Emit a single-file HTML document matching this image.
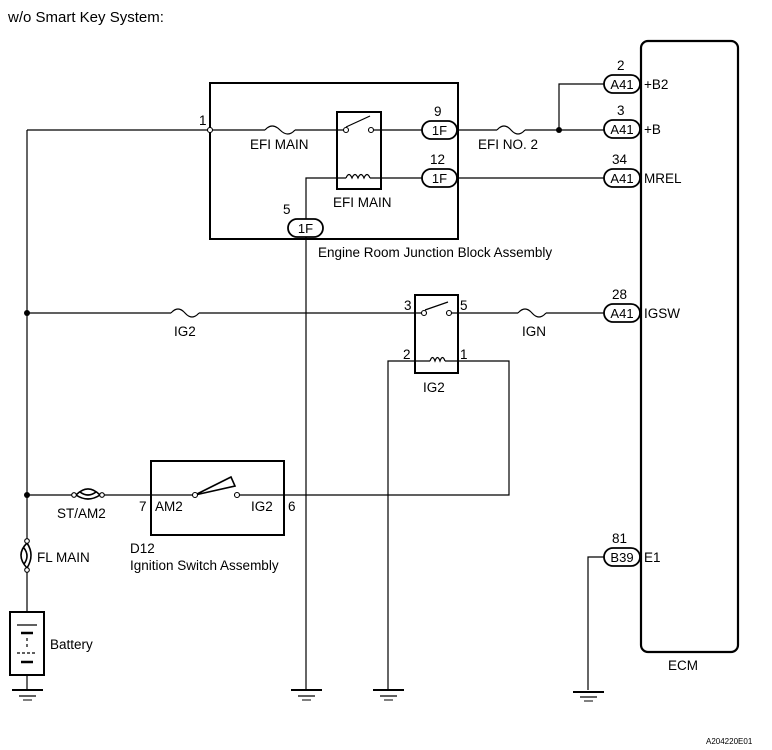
<!DOCTYPE html>
<html><head><meta charset="utf-8"><style>
html,body{margin:0;padding:0;background:#fff;}
svg{display:block;}
text{font-family:"Liberation Sans",Arial,sans-serif;fill:#000;}
</style></head><body>
<svg width="772" height="750" viewBox="0 0 772 750" xmlns="http://www.w3.org/2000/svg">
<g fill="none" stroke="#000" stroke-width="1.2">
<rect x="641" y="41" width="97" height="611" rx="7" stroke-width="2.2"/>
<rect x="210" y="83" width="248" height="156" stroke-width="2"/>
<rect x="337" y="112" width="44" height="77" stroke-width="2"/>
<rect x="415" y="295" width="43" height="78" stroke-width="2"/>
<rect x="151" y="461" width="133" height="74" stroke-width="2"/>
<rect x="10" y="612" width="34" height="63" stroke-width="2"/>

<line x1="27" y1="130" x2="27" y2="541"/>
<line x1="27" y1="570" x2="27" y2="612"/>
<line x1="27" y1="675" x2="27" y2="690"/>
<line x1="27" y1="130" x2="265" y2="130"/>
<path d="M265,130 q7,-8 15,0 t15,0"/>
<line x1="295" y1="130" x2="345" y2="130"/>
<line x1="372" y1="130" x2="422" y2="130"/>
<line x1="346" y1="127" x2="370" y2="116"/>
<line x1="457" y1="130" x2="497" y2="130"/>
<path d="M497,130 q7,-8 14,0 t14,0"/>
<line x1="525" y1="130" x2="604" y2="130"/>
<polyline points="559,130 559,84 604,84"/>
<polyline points="306,227 306,178 346,178"/>
<path d="M346,178 q3,-7 6,0 q3,-7 6,0 q3,-7 6,0 q3,-7 6,0" />
<line x1="370" y1="178" x2="422" y2="178"/>
<line x1="457" y1="178" x2="604" y2="178"/>
<line x1="306" y1="236" x2="306" y2="690"/>
<line x1="27" y1="313" x2="171" y2="313"/>
<path d="M171,313 q7,-8 14,0 t14,0"/>
<line x1="199" y1="313" x2="424" y2="313"/>
<line x1="425" y1="310" x2="448" y2="302"/>
<line x1="449" y1="313" x2="518" y2="313"/>
<path d="M518,313 q7,-8 14,0 t14,0"/>
<line x1="546" y1="313" x2="604" y2="313"/>
<polyline points="388,690 388,361 430,361"/>
<path d="M430,361 q2.5,-7 5,0 q2.5,-7 5,0 q2.5,-7 5,0"/>
<polyline points="445,361 509,361 509,495 239,495"/>
<line x1="27" y1="495" x2="74" y2="495"/>
<path d="M76,495 q12,-12 24,0 M76,495 q12,8 24,0 M80,492 q8,6 16,0" stroke-width="1.6"/>
<line x1="102" y1="495" x2="195" y2="495"/>
<path d="M195,495 L231,477 L235,486 Z" stroke-width="1.6"/>
<path d="M27,543 q-12,12 0,25 M27,543 q8,12 0,25 M24,548 q6,8 0,16" stroke-width="1.6"/>
<line x1="17" y1="625" x2="37" y2="625"/>
<line x1="21" y1="633" x2="33" y2="633" stroke-width="2.5"/>
<line x1="27" y1="638" x2="27" y2="650" stroke-dasharray="3,3"/>
<line x1="17" y1="653" x2="37" y2="653" stroke-dasharray="3,2"/>
<line x1="21" y1="662" x2="33" y2="662" stroke-width="2.5"/>
<polyline points="605,557 588,557 588,690"/>
<g stroke-width="2">
<line x1="12" y1="690" x2="43" y2="690"/><line x1="19" y1="696" x2="36" y2="696" stroke-width="1.2"/><line x1="23" y1="700" x2="32" y2="700" stroke-width="1"/>
<line x1="291" y1="690" x2="322" y2="690"/><line x1="298" y1="696" x2="315" y2="696" stroke-width="1.2"/><line x1="302" y1="700" x2="311" y2="700" stroke-width="1"/>
<line x1="373" y1="690" x2="404" y2="690"/><line x1="380" y1="696" x2="397" y2="696" stroke-width="1.2"/><line x1="384" y1="700" x2="393" y2="700" stroke-width="1"/>
<line x1="573" y1="692" x2="604" y2="692"/><line x1="580" y1="697" x2="597" y2="697" stroke-width="1.2"/><line x1="584" y1="701" x2="593" y2="701" stroke-width="1"/>
</g>
<g stroke-width="1.8" fill="#fff">
<rect x="422" y="121" width="35" height="18" rx="9"/>
<rect x="422" y="169" width="35" height="18" rx="9"/>
<rect x="288" y="219" width="35" height="18" rx="9"/>
<rect x="604" y="75" width="36" height="18" rx="9"/>
<rect x="604" y="120" width="36" height="18" rx="9"/>
<rect x="604" y="169" width="36" height="18" rx="9"/>
<rect x="604" y="304" width="36" height="18" rx="9"/>
<rect x="604" y="548" width="36" height="18" rx="9"/>
</g>
<g fill="#fff" stroke-width="1.1">
<circle cx="210" cy="130" r="2.5"/>
<circle cx="346" cy="130" r="2.5"/><circle cx="371" cy="130" r="2.5"/>
<circle cx="424" cy="313" r="2.5"/><circle cx="449" cy="313" r="2.5"/>
<circle cx="195" cy="495" r="2.5"/><circle cx="237" cy="495" r="2.5"/>
<circle cx="74" cy="495" r="2.3"/><circle cx="102" cy="495" r="2.3"/>
<circle cx="27" cy="541" r="2.3"/><circle cx="27" cy="570" r="2.3"/>
</g>
</g>
<g fill="#000">
<circle cx="559" cy="130" r="3"/>
<circle cx="27" cy="313" r="3"/>
<circle cx="27" cy="495" r="3"/>
</g>

<g font-size="15"><text x="8" y="22">w/o Smart Key System:</text></g>
<g font-size="13.5">
<text x="199" y="125">1</text>
<text x="250" y="149">EFI MAIN</text>
<text x="333" y="207">EFI MAIN</text>
<text x="434" y="116">9</text>
<text x="430" y="164">12</text>
<text x="283" y="214">5</text>
<text x="478" y="149">EFI NO. 2</text>
<text x="318" y="257">Engine Room Junction Block Assembly</text>
<text x="617" y="70">2</text>
<text x="617" y="115">3</text>
<text x="612" y="164">34</text>
<text x="612" y="299">28</text>
<text x="612" y="543">81</text>
<text x="644" y="89">+B2</text>
<text x="644" y="134">+B</text>
<text x="644" y="183">MREL</text>
<text x="644" y="318">IGSW</text>
<text x="644" y="562">E1</text>
<text x="668" y="670">ECM</text>
<text x="174" y="336">IG2</text>
<text x="404" y="310">3</text>
<text x="460" y="310">5</text>
<text x="403" y="359">2</text>
<text x="460" y="359">1</text>
<text x="423" y="392">IG2</text>
<text x="522" y="336">IGN</text>
<text x="57" y="518">ST/AM2</text>
<text x="139" y="511">7</text>
<text x="155" y="511">AM2</text>
<text x="251" y="511">IG2</text>
<text x="288" y="511">6</text>
<text x="130" y="553">D12</text>
<text x="130" y="570">Ignition Switch Assembly</text>
<text x="37" y="562">FL MAIN</text>
<text x="50" y="649">Battery</text>
</g>
<g font-size="13" text-anchor="middle">
<text x="439.5" y="135">1F</text>
<text x="439.5" y="183">1F</text>
<text x="305.5" y="233">1F</text>
<text x="622" y="89">A41</text>
<text x="622" y="134">A41</text>
<text x="622" y="183">A41</text>
<text x="622" y="318">A41</text>
<text x="622" y="562">B39</text>
</g>
<text x="706" y="744" font-size="8">A204220E01</text>
</svg>
</body></html>
